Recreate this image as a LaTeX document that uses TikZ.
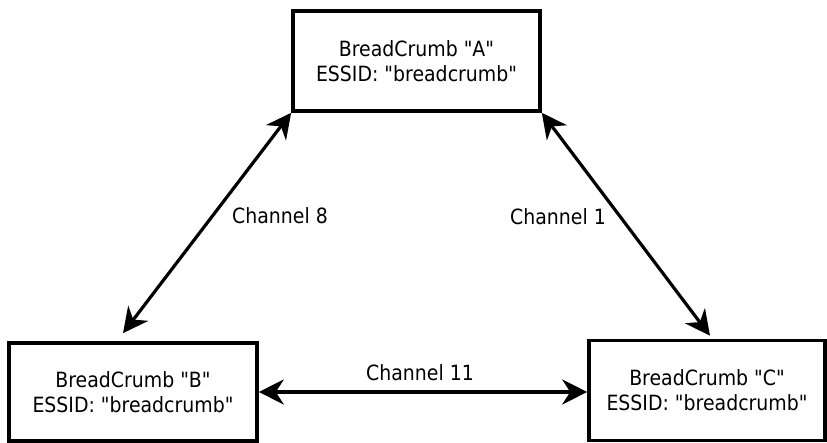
\documentclass[tikz,border=0pt]{standalone}
\usepackage{fontspec}
\setmainfont{DejaVu Sans}[FakeStretch=0.9,Ligatures=TeXOff]
\usepackage{tikz}
\usetikzlibrary{arrows.meta}

\tikzset{
  crumb/.style={draw,line width=3.6pt,align=center,
    font=\fontsize{21}{25}\selectfont,inner sep=0pt},
  chan/.style={font=\fontsize{21}{24}\selectfont,inner sep=0pt},
  link/.style={line width=3.2pt,{Stealth[length=25pt,width=25pt,inset=8pt]}-{Stealth[length=25pt,width=25pt,inset=8pt]}}
}

\begin{document}
\begin{tikzpicture}[x=1pt,y=1pt]
          \useasboundingbox[fill=white] (0,0) rectangle (827,443);
          \node[crumb,minimum width=247pt,minimum height=100pt] (A) at (416.5,382) {BreadCrumb "A"\\ESSID: "breadcrumb"};
          \node[crumb,minimum width=248pt,minimum height=98pt] (B) at (133,51) {BreadCrumb "B"\\ESSID: "breadcrumb"};
          \node[crumb,minimum width=236pt,minimum height=100pt] (C) at (707,52.5) {BreadCrumb "C"\\ESSID: "breadcrumb"};
          \draw[link] (A.south west) -- ([shift={(-10pt,8pt)}]B.north);
          \draw[link] (A.south east) -- ([shift={(3pt,3pt)}]C.north);
          \draw[link] (B.east) -- (B.east -| C.west);
          \node[chan] (ch8) at (280,227) {Channel 8};
          \node[chan] (ch1) at (558,226) {Channel 1};
          \node[chan] (ch11) at (420,70) {Channel 11};
        \end{tikzpicture}
\end{document}
